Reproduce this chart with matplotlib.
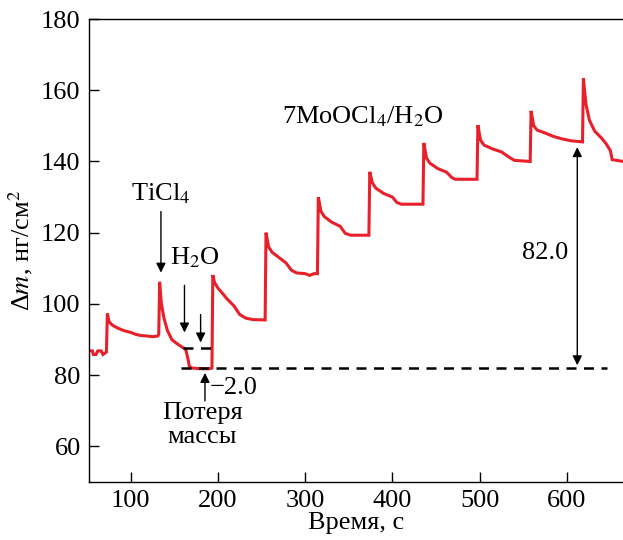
import matplotlib.pyplot as plt

plt.rcParams['font.family'] = ['Liberation Serif', 'DejaVu Serif']
plt.rcParams['mathtext.fontset'] = 'stix'

# time, s / mass change, ng/cm2
t = [52, 56, 57, 60, 62, 66, 68, 72,
     73, 75, 79, 85, 92, 100, 105, 110, 118, 125, 131,
     132, 133, 135, 138, 142, 147, 152, 158, 163, 166, 167, 170, 180, 190, 193,
     194, 196, 200, 205, 210, 218, 225, 232, 240, 254,
     255, 258, 262, 270, 278, 284, 290, 300, 305, 310, 314,
     315, 318, 322, 330, 340, 346, 352, 373,
     374, 377, 381, 390, 400, 405, 410, 435,
     436, 439, 443, 452, 462, 468, 472, 497,
     498, 501, 505, 515, 525, 535, 540, 558,
     559, 562, 566, 575, 585, 595, 605, 618,
     619, 622, 626, 632, 640, 645, 650, 652, 665]
m = [86.8, 86.8, 85.8, 85.8, 86.8, 86.8, 85.8, 86.5,
     97.3, 95.0, 94.0, 93.2, 92.5, 92.0, 91.5, 91.2, 91.0, 90.8, 91.0,
     91.5, 106.2, 100.0, 96.0, 92.5, 90.0, 89.0, 88.0, 87.2, 84.0, 82.5, 82.0, 81.8, 81.8, 82.0,
     108.1, 106.0, 104.4, 103.0, 101.5, 99.5, 97.0, 96.0, 95.6, 95.5,
     120.0, 116.0, 114.5, 113.0, 111.5, 109.5, 108.7, 108.5, 108.0, 108.5, 108.5,
     130.0, 126.0, 124.5, 123.0, 121.8, 119.8, 119.3, 119.3,
     137.1, 134.0, 132.5, 131.0, 130.0, 128.5, 128.0, 128.0,
     145.2, 141.0, 139.5, 138.0, 137.0, 135.5, 135.0, 135.0,
     150.2, 146.0, 144.6, 143.5, 142.7, 141.0, 140.3, 140.0,
     154.2, 150.0, 148.8, 148.0, 147.0, 146.3, 145.8, 145.5,
     163.3, 156.0, 151.5, 148.5, 146.5, 145.0, 143.0, 140.5, 140.0]

fs = 19

fig = plt.figure(figsize=(6.23, 5.40), dpi=100)
ax = fig.add_axes([89 / 623, 58 / 540, 534.5 / 623, 463 / 540])

ax.plot(t, m, color='#e8202a', lw=2.2, solid_joinstyle='miter')

# reference levels
ax.plot([160, 199], [87.5, 87.5], color='black', lw=1.8, ls=(0, (4, 3)))
ax.plot([158, 646], [82.0, 82.0], color='black', lw=1.8, ls=(0, (4, 3)))

arr = dict(arrowstyle='-|>', color='black', lw=1.0, mutation_scale=14)
ax.annotate('TiCl$_4$', xy=(134.5, 108), xytext=(134.5, 127.5), ha='center', va='bottom',
            fontsize=fs, arrowprops=arr)
ax.text(174, 113, 'H$_2$O', ha='center', va='center', fontsize=fs)
ax.annotate('', xy=(161.5, 91.2), xytext=(161.5, 106), arrowprops=arr)
ax.annotate('', xy=(180, 88.4), xytext=(180, 97.8), arrowprops=arr)
ax.annotate('', xy=(185, 81.4), xytext=(185, 72), arrowprops=arr)
ax.text(190, 76.3, '\u22122.0', ha='left', va='center', fontsize=fs)
ax.text(182, 69.3, 'Потеря', ha='center', va='center', fontsize=fs)
ax.text(182, 62.6, 'массы', ha='center', va='center', fontsize=fs)
ax.text(366, 152.5, '7MoOCl$_4$/H$_2$O', ha='center', va='center', fontsize=fs)
ax.annotate('', xy=(612, 144.8), xytext=(612, 82.0),
            arrowprops=dict(arrowstyle='<|-|>', color='black', lw=1.0, mutation_scale=14))
ax.text(575, 114.3, '82.0', ha='center', va='center', fontsize=fs)

ax.set_xlim(52, 665)
ax.set_ylim(50, 180)
ax.set_xticks([100, 200, 300, 400, 500, 600])
ax.set_yticks([60, 80, 100, 120, 140, 160, 180])
ax.tick_params(direction='in', length=7, width=1, labelsize=fs, pad=6)
for s in ax.spines.values():
    s.set_linewidth(1.0)
ax.set_xlabel('Время, с', fontsize=fs, labelpad=0)
ax.set_ylabel('Δ$m$, нг/см$^2$', fontsize=fs, labelpad=4)

fig.savefig('out.png', dpi=100)
